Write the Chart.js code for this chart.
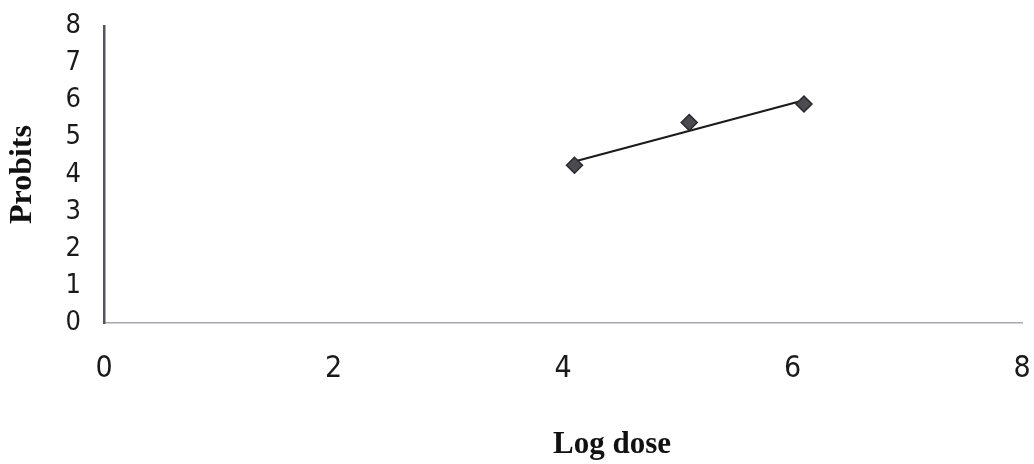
<!DOCTYPE html>
<html>
<head>
<meta charset="utf-8">
<script src="https://cdn.jsdelivr.net/npm/chart.js@4/dist/chart.umd.min.js"></script>
<style>
  html, body { margin: 0; padding: 0; background: #fff; }
  #wrap { width: 1034px; height: 464px; }
</style>
</head>
<body>
<div id="wrap"><canvas id="probitChart" width="1034" height="464"></canvas></div>
<script>
// probit values against log dose, with the fitted line
const logDose = [4.1, 5.1, 6.1];
const probits = [4.25, 5.4, 5.9];
const fitDose = [4.1, 6.1];
const fitProbit = [4.35, 6.0];
const xTicks = [0, 2, 4, 6, 8];
const yTicks = [0, 1, 2, 3, 4, 5, 6, 7, 8];

const tickFont = "'Liberation Sans Narrow', 'DejaVu Sans Condensed', 'Liberation Sans', sans-serif";
const titleFont = "'Liberation Serif', 'DejaVu Serif', serif";

// "Log dose" sits right of the plot centre, so it is drawn here
const xTitlePlugin = {
    id: 'xTitle',
    afterDraw(chart) {
        const ctx = chart.ctx;
        ctx.save();
        ctx.font = "bold 31px " + titleFont;
        ctx.fillStyle = '#111';
        ctx.textAlign = 'center';
        ctx.textBaseline = 'middle';
        ctx.fillText('Log dose', 612, 445);
        ctx.restore();
    }
};

const ctx = document.getElementById('probitChart').getContext('2d');
new Chart(ctx, {
    type: 'scatter',
    data: {
        datasets: [
            {
                label: 'Probits',
                data: logDose.map((d, i) => ({ x: d, y: probits[i] })),
                pointStyle: 'rectRot',
                pointRadius: 8,
                backgroundColor: '#4a4a4f',
                borderColor: '#2a2a2e',
                borderWidth: 1.5,
                showLine: false,
                order: 1
            },
            {
                label: 'Fit',
                data: fitDose.map((d, i) => ({ x: d, y: fitProbit[i] })),
                showLine: true,
                borderColor: '#1a1a1a',
                borderWidth: 2.2,
                pointRadius: 0,
                order: 2
            }
        ]
    },
    options: {
        responsive: false,
        animation: false,
        layout: { padding: { top: 26, right: 12, left: 0, bottom: 0 } },
        plugins: {
            legend: { display: false },
            tooltip: { enabled: false }
        },
        scales: {
            x: {
                type: 'linear',
                min: 0,
                max: 8,
                afterBuildTicks: scale => { scale.ticks = xTicks.map(v => ({ value: v })); },
                afterFit: scale => {
                    // tick padding would otherwise widen the side margins
                    scale.height = 141;
                    scale.paddingLeft = 0;
                    scale.paddingRight = 0;
                },
                grid: { display: false, drawTicks: false },
                border: { display: true, color: '#a8a8b0', width: 1.5, dash: [3, 2] },
                ticks: {
                    padding: 28,
                    color: '#1a1a1a',
                    font: { family: tickFont, size: 30 }
                }
            },
            y: {
                type: 'linear',
                min: 0,
                max: 8,
                afterBuildTicks: scale => { scale.ticks = yTicks.map(v => ({ value: v })); },
                afterFit: scale => {
                    scale.width = 104;
                    scale.paddingTop = 0;
                    scale.paddingBottom = 0;
                },
                grid: { display: false, drawTicks: false },
                border: { display: true, color: '#55555c', width: 2.5 },
                ticks: {
                    padding: 23,
                    autoSkip: false,
                    color: '#1a1a1a',
                    font: { family: tickFont, size: 27 }
                },
                title: {
                    display: true,
                    text: 'Probits',
                    color: '#111',
                    padding: { top: 4, bottom: 0 },
                    font: { family: titleFont, size: 32, weight: 'bold', lineHeight: 1.2 }
                }
            }
        }
    },
    plugins: [xTitlePlugin]
});
</script>
</body>
</html>
